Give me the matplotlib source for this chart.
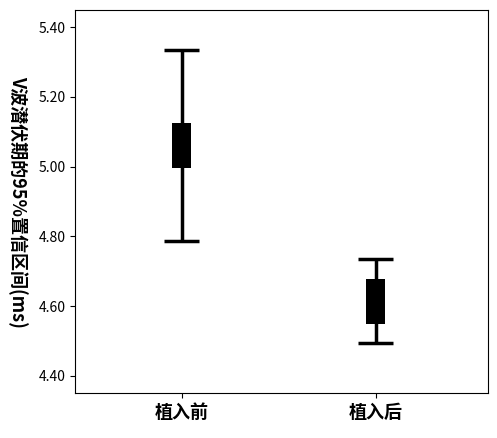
import matplotlib.pyplot as plt

plt.rcParams['font.family'] = ['Noto Sans CJK SC', 'DejaVu Sans']

groups = ["植入前", "植入后"]
ci_low = [4.787, 4.495]
ci_high = [5.334, 4.735]
box_low = [4.996, 4.549]
box_high = [5.125, 4.678]
y_ticks = [4.40, 4.60, 4.80, 5.00, 5.20, 5.40]


def main() -> None:
    fig = plt.figure(figsize=(4.97, 4.38), dpi=100)
    ax = fig.add_axes([0.151, 0.103, 0.831, 0.874])
    positions = list(range(len(groups)))

    for pos, lo, hi, blo, bhi in zip(positions, ci_low, ci_high, box_low, box_high):
        ax.vlines(pos, lo, hi, color="black", linewidth=2.5)
        ax.hlines([lo, hi], pos - 0.09, pos + 0.09, color="black", linewidth=2.5)
        ax.bar(pos, bhi - blo, bottom=blo, width=0.1, color="black")

    ax.set_xlim(-0.55, 1.58)
    ax.set_ylim(4.351, 5.449)
    ax.set_xticks(positions)
    ax.set_xticklabels(groups, fontsize=13, fontweight="bold")
    ax.set_yticks(y_ticks)
    ax.set_yticklabels([f"{v:.2f}" for v in y_ticks], fontsize=10)
    ax.set_ylabel("V波潜伏期的95%置信区间(ms)", fontsize=13, fontweight="bold",
                  rotation=-90, labelpad=22)

    fig.savefig("out.png", dpi=100)


if __name__ == "__main__":
    main()
